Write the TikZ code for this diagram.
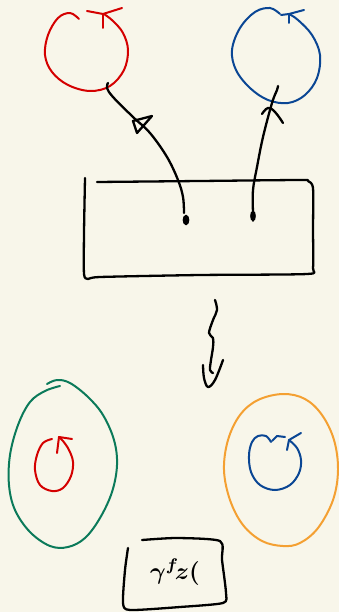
\documentclass[tikz,border=0pt]{standalone}
\usetikzlibrary{calc}
\definecolor{paper}{HTML}{F8F6EA}
\definecolor{inkred}{HTML}{D40000}
\definecolor{inkblue}{HTML}{0A4694}
\definecolor{inkgreen}{HTML}{0B7A5A}
\definecolor{inkorange}{HTML}{F4A032}
\tikzset{
  pen/.style={line width=2.3pt, line cap=round, line join=round},
  thinpen/.style={line width=2pt, line cap=round, line join=round},
  dotmark/.style={line width=2.2pt, fill=black},
}
\begin{document}
\begin{tikzpicture}[x=1pt,y=-1pt]
\fill[paper] (0,0) rectangle (339,612);
\useasboundingbox (0,0) rectangle (339,612);

% ---- top red circle
\draw[thinpen,inkred] plot[smooth,tension=0.6] coordinates {(79,19) (70,13) (58,18) (48,35) (45,55) (52,72) (68,85) (90,91) (110,86) (124,70) (128,50) (123,33) (113,21) (104,14)};
\draw[thinpen,inkred] (87,11) -- (103,14) -- (122,8);
\draw[thinpen,inkred] (103,14) -- (103,28);

% ---- top blue circle
\draw[thinpen,inkblue] plot[smooth,tension=0.6] coordinates {(280,14) (270,8) (255,12) (240,28) (232,50) (236,70) (250,88) (268,100) (288,103) (305,95) (317,78) (320,55) (312,35) (298,20) (289,14)};
\draw[thinpen,inkblue] (281,15) -- (289,14) -- (304,10);
\draw[thinpen,inkblue] (289,14) -- (289,23);

% ---- box
\draw[pen] plot[smooth,tension=0.4] coordinates {(97,182) (200,181) (300,180) (308,181) (313,188) (313,230) (313,268) (307,274) (200,275) (100,277) (88,279) (84,274) (84,233) (85,178)};

% ---- connector end points (dots)
\coordinate (dA) at (186,220);
\coordinate (dB) at (253,216);
\coordinate (eA) at (108,83);
\coordinate (eB) at (278,86);
\draw[dotmark] (dA) ellipse (2.2 and 4);
\draw[dotmark] (dB) ellipse (1.7 and 4.2);

% ---- left connector with open triangle head
\draw[pen] plot[smooth,tension=0.6] coordinates {($(dA)+(-2,-7)$) (183,197) (178,180) (167,157) (150,133) (133,117) (113,97) (107,88) (eA)};
\draw[pen] (133,121) -- (152,116) -- (137,133) -- cycle;

% ---- right connector with tick head
\draw[pen] plot[smooth,tension=0.6] coordinates {($(dB)+(0,-4)$) (253,190) (257,167) (263,137) (272,103) (277,90) (eB)};
\draw[pen] plot[smooth,tension=0.7] coordinates {(262,114) (268,108) (275,112) (283,123)};

% ---- squiggly arrow
\draw[pen] plot[smooth,tension=0.6] coordinates {(215,300) (217,310) (213,320) (209,333) (213,338) (213,347) (211,360) (210,370) (213,373)};
\draw[pen] plot[smooth,tension=0.6] coordinates {(203,365) (204,378) (208,387) (215,380) (223,360)};

% ---- green ellipse
\draw[thinpen,inkgreen] plot[smooth,tension=0.6] coordinates {(60,386) (45,391) (30,402) (18,425) (10,455) (9,485) (15,510) (30,532) (50,546) (68,547) (85,538) (100,518) (112,492) (117,465) (114,440) (103,415) (88,397) (70,383) (57,380) (47,384)};

% ---- small red circle
\draw[thinpen,inkred] plot[smooth,tension=0.6] coordinates {(52,439) (43,443) (37,455) (35,470) (40,485) (52,491) (63,488) (71,476) (73,462) (69,450) (63,441) (59,437)};
\draw[thinpen,inkred] (59,437) -- (72,439);
\draw[thinpen,inkred] (59,437) -- (57,453);

% ---- orange ellipse
\draw[thinpen,inkorange] plot[smooth cycle,tension=0.6] coordinates {(283,394) (305,399) (322,415) (334,440) (338,470) (333,500) (318,528) (300,543) (283,546) (262,541) (243,525) (230,500) (224,470) (228,440) (240,415) (258,400)};

% ---- small blue circle
\draw[thinpen,inkblue] plot[smooth,tension=0.6] coordinates {(271,442) (266,436) (258,436) (252,442) (249,455) (251,472) (260,485) (275,490) (290,485) (299,473) (301,460) (297,448) (289,440)};
\draw[thinpen,inkblue] (272,441) -- (277,436) -- (285,437);
\draw[thinpen,inkblue] (289,440) -- (301,433);
\draw[thinpen,inkblue] (289,440) -- (287,450);

% ---- bottom box with label
\draw[pen] plot[smooth,tension=0.4] coordinates {(142,540) (177,538) (220,541) (222,560) (226,593) (223,603) (180,607) (130,610) (123,603) (125,570) (128,548)};
\node[inner sep=0pt] (lbl) at (175,572) {\scalebox{2.4}{\boldmath$\gamma^{f}\!z($}};
\end{tikzpicture}
\end{document}
